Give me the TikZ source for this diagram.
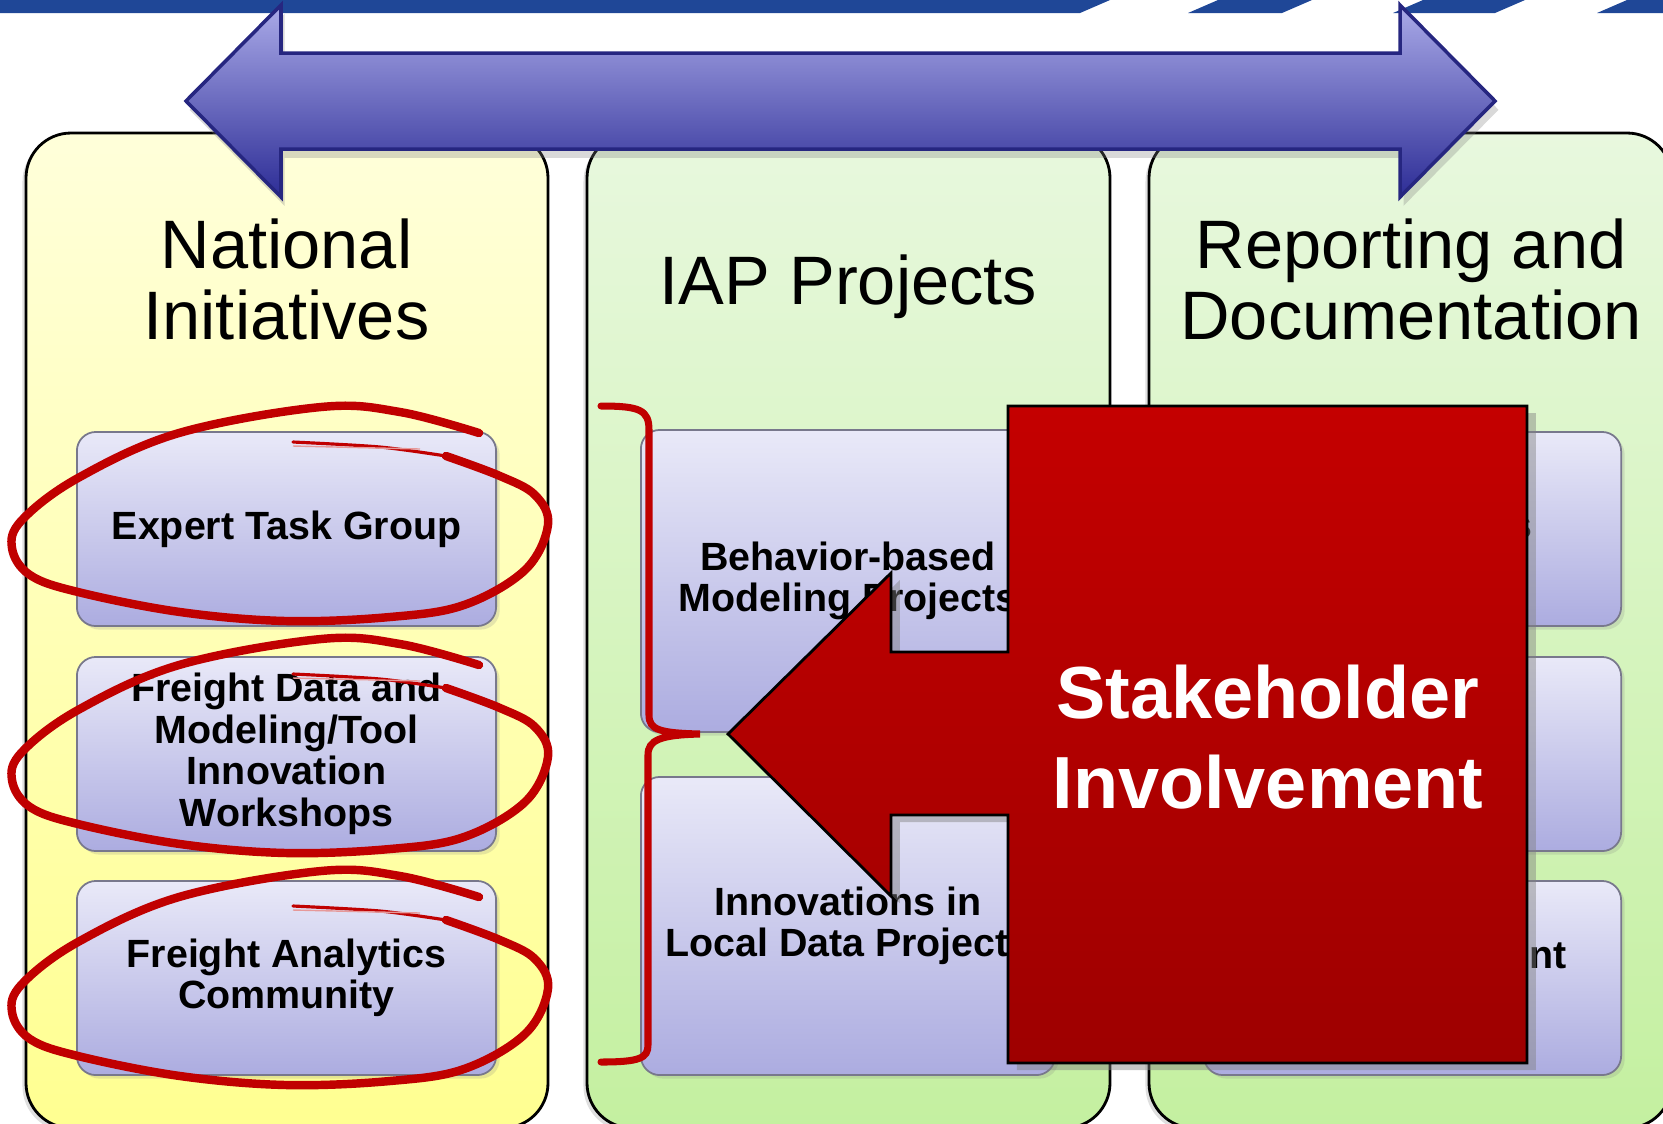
\documentclass[tikz,border=0pt]{standalone}
\usepackage{fontspec}
\setmainfont{Liberation Sans}
\usetikzlibrary{shadows}

\definecolor{bannerblue}{RGB}{31,71,151}
\definecolor{coltopY}{RGB}{255,255,218}
\definecolor{colbotY}{RGB}{255,255,145}
\definecolor{coltopG}{RGB}{232,248,222}
\definecolor{colbotG}{RGB}{196,240,160}
\definecolor{boxtop}{RGB}{233,233,248}
\definecolor{boxbot}{RGB}{172,172,224}
\definecolor{boxedge}{RGB}{120,120,140}
\definecolor{arrowtop}{RGB}{170,170,232}
\definecolor{arrowmid}{RGB}{128,128,205}
\definecolor{arrowbot}{RGB}{45,45,150}
\definecolor{arrowedge}{RGB}{38,38,128}
\definecolor{redtop}{RGB}{196,0,0}
\definecolor{redbot}{RGB}{158,0,0}
\definecolor{ringred}{RGB}{192,0,0}

\tikzset{
  column/.style={draw=black, line width=0.8pt, rounded corners=12.8pt,
    drop shadow={opacity=0.25, shadow xshift=-1pt, shadow yshift=-1pt}},
  task/.style={draw=boxedge, line width=0.5pt, rounded corners=5.4pt,
    top color=boxtop, bottom color=boxbot, inner sep=0pt, align=center,
    font=\fontsize{11.2}{11.8}\selectfont\bfseries,
    drop shadow={opacity=0.2, shadow xshift=1pt, shadow yshift=-1pt}},
  title/.style={font=\fontsize{19.5}{20.2}\selectfont, align=center},
  hidden/.style={font=\fontsize{11.2}{11.8}\selectfont\bfseries,
    anchor=base east, inner sep=0pt},
  ring/.style={draw=ringred, line width=2.4pt, line cap=round, line join=round},
}

\begin{document}
\begin{tikzpicture}[x=0.01cm, y=-0.01cm]
  \useasboundingbox (0,0) rectangle (1663,1123);

  % banner
  \fill[bannerblue] (0,0) -- (1110,0) -- (1080,13) -- (0,13) -- cycle;
  \fill[bannerblue] (1218,0) -- (1312,0) -- (1282,13) -- (1188,13) -- cycle;
  \fill[bannerblue] (1423,0) -- (1525,0) -- (1495,13) -- (1393,13) -- cycle;
  \fill[bannerblue] (1627,0) -- (1663,0) -- (1663,13) -- (1597,13) -- cycle;

  % columns
  \draw[column, top color=coltopY, bottom color=colbotY]
    (26,133) rectangle (548,1128);
  \draw[column, top color=coltopG, bottom color=colbotG]
    (587,133) rectangle (1110,1128);
  \draw[column, top color=coltopG, bottom color=colbotG]
    (1149,133) rectangle (1672,1128);

  \node[title] (nattitle) at (286.5,279) {National\\Initiatives};
  \node[title] (iaptitle) at (848.5,287) {IAP Projects};
  \node[title] (reptitle) at (1411,279) {Reporting and\\Documentation};

  % boxes
  \node[task, minimum width=4.19cm, minimum height=1.94cm]
    (expert) at (286.5,529) {Expert Task Group};
  \node[task, minimum width=4.19cm, minimum height=1.94cm]
    (workshops) at (286.5,754) {Freight Data and\\Modeling/Tool\\Innovation\\Workshops};
  \node[task, minimum width=4.19cm, minimum height=1.94cm]
    (community) at (286.5,978) {Freight Analytics\\Community};

  \node[task, minimum width=4.14cm, minimum height=3.02cm]
    (behavior) at (848,581) {Behavior-based\\Modeling Projects};
  \node[task, minimum width=4.14cm, minimum height=2.98cm]
    (localdata) at (848,926) {Innovations in\\Local Data Projects};

  \node[task, minimum width=4.17cm, minimum height=1.94cm]
    (rep1) at (1412.5,529) {};
  \node[task, minimum width=4.17cm, minimum height=1.94cm]
    (rep2) at (1412.5,754) {};
  \node[task, minimum width=4.17cm, minimum height=1.94cm]
    (rep3) at (1412.5,978) {};
  \node[hidden] (rep1end) at (1533,538) {s};
  \node[hidden] (rep3end) at (1567,968) {ent};

  % two-way arrow
  \draw[draw=arrowedge, line width=1pt, top color=arrowtop,
    middle color=arrowmid, bottom color=arrowbot,
    drop shadow={opacity=0.3, shadow xshift=1pt, shadow yshift=-2.5pt}]
    (186,101) -- (281,5) -- (281,53) -- (1400,53) -- (1400,5)
    -- (1495,101) -- (1400,197) -- (1400,149) -- (281,149)
    -- (281,197) -- cycle;

  % rings round the national initiatives
  \foreach \dy in {0,232,464} {
    \begin{scope}[shift={(0,\dy)}]
      \draw[ring] plot[smooth, tension=0.6] coordinates {
        (479,433) (400,412) (321,407) (179,433) (78,478) (22,520)
        (12,548) (30,575) (78,592) (180,612) (286,621) (390,617)
        (464,605) (525,570) (548,525) (535,495) (500,476) (446,456)};
      \draw[ringred, line width=0.9pt, line cap=round]
        plot[smooth] coordinates {(446,456) (380,447) (293,442)};
      \draw[ringred!40, line width=0.4pt]
        (293,446) -- (420,449);
    \end{scope}
  }

  % bracket
  \draw[ringred, line width=2pt, line cap=round]
    (601,406) .. controls (640,406) and (649,410) .. (649,430)
    -- (649,715) .. controls (649,730) and (660,733) .. (700,734)
    .. controls (660,735) and (648,740) .. (648,755)
    -- (648,1045) .. controls (648,1058) and (640,1062) .. (601,1062);

  % stakeholder box with arrow
  \draw[black, line width=0.8pt, top color=redtop, bottom color=redbot,
    drop shadow={opacity=0.45, shadow xshift=2.5pt, shadow yshift=-2pt}]
    (1008,406) -- (1527,406) -- (1527,1063) -- (1008,1063)
    -- (1008,815) -- (891,815) -- (891,896) -- (728,734)
    -- (891,573) -- (891,652) -- (1008,652) -- cycle;
  \node[font=\fontsize{21}{25.5}\selectfont\bfseries, text=white,
    align=center] (stake) at (1268,737) {Stakeholder\\Involvement};

\end{tikzpicture}
\end{document}
